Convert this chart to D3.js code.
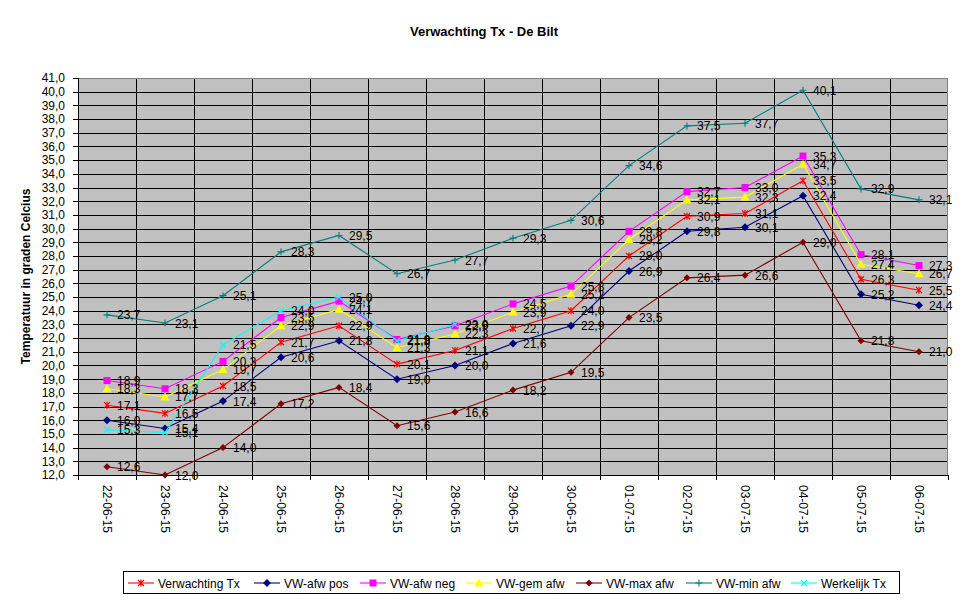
<!DOCTYPE html>
<html>
<head>
<meta charset="utf-8">
<script src="https://cdn.jsdelivr.net/npm/d3@7"></script>
<style>
  html, body { margin: 0; padding: 0; background: #fff; }
  svg { display: block; font-family: "Liberation Sans", Arial, sans-serif; }
</style>
</head>
<body>
<svg id="chart" width="969" height="602"></svg>
<script>
// ---- data ----
const categories = ["22-06-15","23-06-15","24-06-15","25-06-15","26-06-15","27-06-15","28-06-15",
  "29-06-15","30-06-15","01-07-15","02-07-15","03-07-15","04-07-15","05-07-15","06-07-15"];

const verwachtingTx = [17.1,16.5,18.5,21.7,22.9,20.1,21.1,22.7,24.0,28.0,30.9,31.1,33.5,26.3,25.5];
const vwAfwPos      = [16.0,15.4,17.4,20.6,21.8,19.0,20.0,21.6,22.9,26.9,29.8,30.1,32.4,25.2,24.4];
const vwAfwNeg      = [18.9,18.3,20.3,23.5,24.7,21.9,22.9,24.5,25.8,29.8,32.7,33.0,35.3,28.1,27.3];
const vwGemAfw      = [18.3,17.7,19.7,22.9,24.1,21.3,22.3,23.9,25.2,29.2,32.1,32.3,34.7,27.4,26.7];
const vwMaxAfw      = [12.6,12.0,14.0,17.2,18.4,15.6,16.6,18.2,19.5,23.5,26.4,26.6,29.0,21.8,21.0];
const vwMinAfw      = [23.7,23.1,25.1,28.3,29.5,26.7,27.7,29.3,30.6,34.6,37.5,37.7,40.1,32.9,32.1];
const werkelijkTx   = [15.3,15.1,21.5,24.0,25.0,21.8,23.0,null,null,null,null,null,null,null,null];

const seriesNames = ["Verwachting Tx","VW-afw pos","VW-afw neg","VW-gem afw","VW-max afw","VW-min afw","Werkelijk Tx"];
const yTickValues = d3.range(12, 41.5, 1);
const titleText = "Verwachting Tx - De Bilt";
const yAxisTitle = "Temperatuur in graden Celcius";

// ---- styling ----
const seriesDefs = [
  { name: seriesNames[0], values: verwachtingTx, color: "#FF0000", marker: "star" },
  { name: seriesNames[1], values: vwAfwPos,      color: "#000080", marker: "diamond" },
  { name: seriesNames[2], values: vwAfwNeg,      color: "#FF00FF", marker: "square" },
  { name: seriesNames[3], values: vwGemAfw,      color: "#FFFF00", marker: "triangle" },
  { name: seriesNames[4], values: vwMaxAfw,      color: "#800000", marker: "diamondSmall" },
  { name: seriesNames[5], values: vwMinAfw,      color: "#008080", marker: "plus" },
  { name: seriesNames[6], values: werkelijkTx,   color: "#00FFFF", marker: "cross" }
];

const svg = d3.select("#chart");
const plot = { left: 78, right: 948, top: 78, bottom: 475 };

const x = d3.scaleBand().domain(categories).range([plot.left, plot.right]).padding(0);
const y = d3.scaleLinear().domain([12, 41]).range([plot.bottom, plot.top]);
const fmt = v => d3.format(".1f")(v).replace(".", ",");

// title
svg.append("text").attr("x", 484).attr("y", 36).attr("text-anchor", "middle")
  .attr("font-size", 13).attr("font-weight", "bold").text(titleText);

// y axis title
svg.append("text").attr("transform", `translate(30,${(plot.top + plot.bottom) / 2}) rotate(-90)`)
  .attr("text-anchor", "middle").attr("font-size", 12).attr("font-weight", "bold").text(yAxisTitle);

// plot background
svg.append("rect").attr("x", plot.left).attr("y", plot.top)
  .attr("width", plot.right - plot.left).attr("height", plot.bottom - plot.top)
  .attr("fill", "#C0C0C0");

// horizontal grid
const grid = svg.append("g").attr("shape-rendering", "crispEdges");
grid.selectAll("line.h").data(yTickValues.filter(v => v > 12 && v < 41)).join("line")
  .attr("x1", plot.left).attr("x2", plot.right)
  .attr("y1", d => Math.round(y(d)) + 0.5).attr("y2", d => Math.round(y(d)) + 0.5)
  .attr("stroke", "#000").attr("stroke-width", 1);
// vertical grid at category boundaries
grid.selectAll("line.v").data(categories.slice(1)).join("line")
  .attr("x1", d => Math.round(x(d)) + 0.5).attr("x2", d => Math.round(x(d)) + 0.5)
  .attr("y1", plot.top).attr("y2", plot.bottom)
  .attr("stroke", "#000").attr("stroke-width", 1);

// plot border (top/right gray)
svg.append("rect").attr("x", plot.left + 0.5).attr("y", plot.top + 0.5)
  .attr("width", plot.right - plot.left - 1).attr("height", plot.bottom - plot.top)
  .attr("fill", "none").attr("stroke", "#808080").attr("shape-rendering", "crispEdges");

// y axis
const yAxis = svg.append("g").attr("transform", `translate(${plot.left},0)`)
  .call(d3.axisLeft(y).tickValues(yTickValues).tickFormat(fmt).tickSize(5).tickPadding(8))
  .attr("shape-rendering", "crispEdges");
yAxis.selectAll("text").attr("font-size", 12).attr("font-family", "Liberation Sans, Arial, sans-serif").attr("fill", "#000");
yAxis.selectAll("line,path").attr("stroke", "#000");
yAxis.select(".domain").attr("d", `M0.5,${plot.top}V${plot.bottom + 0.5}`);

// x axis line + ticks at boundaries
const xg = svg.append("g").attr("shape-rendering", "crispEdges");
xg.append("line").attr("x1", plot.left).attr("x2", plot.right)
  .attr("y1", plot.bottom + 0.5).attr("y2", plot.bottom + 0.5).attr("stroke", "#000");
const boundaries = categories.map(c => x(c)).concat([plot.right]);
xg.selectAll("line.t").data(boundaries).join("line")
  .attr("x1", d => Math.round(d) + 0.5).attr("x2", d => Math.round(d) + 0.5)
  .attr("y1", plot.bottom).attr("y2", plot.bottom + 5).attr("stroke", "#000");
// x labels rotated 90deg clockwise
svg.append("g").selectAll("text").data(categories).join("text")
  .attr("transform", d => `translate(${x(d) + x.bandwidth() / 2 - 4},${plot.bottom + 10}) rotate(90)`)
  .attr("text-anchor", "start").attr("font-size", 12).attr("fill", "#000").text(d => d);

// marker drawing
function drawMarker(g, type, color, cx, cy) {
  switch (type) {
    case "star":
      g.append("path").attr("d", `M${cx-3},${cy-3}L${cx+3},${cy+3}M${cx-3},${cy+3}L${cx+3},${cy-3}M${cx},${cy-3.5}L${cx},${cy+3.5}`)
        .attr("stroke", color).attr("stroke-width", 1.2).attr("fill", "none");
      break;
    case "diamond":
      g.append("path").attr("d", `M${cx},${cy-4}L${cx+4},${cy}L${cx},${cy+4}L${cx-4},${cy}Z`).attr("fill", color);
      break;
    case "diamondSmall":
      g.append("path").attr("d", `M${cx},${cy-3.5}L${cx+3.5},${cy}L${cx},${cy+3.5}L${cx-3.5},${cy}Z`).attr("fill", color);
      break;
    case "square":
      g.append("rect").attr("x", cx - 3.5).attr("y", cy - 3.5).attr("width", 7).attr("height", 7).attr("fill", color);
      break;
    case "triangle":
      g.append("path").attr("d", `M${cx},${cy-4.5}L${cx+4.5},${cy+3.5}L${cx-4.5},${cy+3.5}Z`).attr("fill", color);
      break;
    case "plus":
      g.append("path").attr("d", `M${cx-3.5},${cy}L${cx+3.5},${cy}M${cx},${cy-3.5}L${cx},${cy+3.5}`)
        .attr("stroke", color).attr("stroke-width", 1.1).attr("fill", "none");
      break;
    case "cross":
      g.append("path").attr("d", `M${cx-3},${cy-3}L${cx+3},${cy+3}M${cx-3},${cy+3}L${cx+3},${cy-3}`)
        .attr("stroke", color).attr("stroke-width", 1.1).attr("fill", "none");
      break;
  }
}

const cx = c => x(c) + x.bandwidth() / 2;
const line = d3.line().defined(d => d.v != null).x(d => cx(d.c)).y(d => y(d.v));

const seriesG = svg.append("g");
seriesDefs.forEach(s => {
  const pts = categories.map((c, i) => ({ c, v: s.values[i] }));
  const g = seriesG.append("g");
  g.append("path").datum(pts).attr("d", line).attr("fill", "none")
    .attr("stroke", s.color).attr("stroke-width", 1.1);
  pts.filter(p => p.v != null).forEach(p => drawMarker(g, s.marker, s.color, cx(p.c), y(p.v)));
});

// data labels
const labelsG = svg.append("g");
seriesDefs.forEach(s => {
  categories.forEach((c, i) => {
    const v = s.values[i];
    if (v == null) return;
    labelsG.append("text").attr("x", cx(c) + 10).attr("y", y(v) + 4.5)
      .attr("font-size", 12).attr("fill", "#000").text(fmt(v));
  });
});

// legend
const legend = svg.append("g");
legend.append("rect").attr("x", 123.5).attr("y", 571.5).attr("width", 776).attr("height", 22)
  .attr("fill", "#fff").attr("stroke", "#000").attr("shape-rendering", "crispEdges");
const legendX = [128, 254, 360, 466, 576, 686, 791];
seriesDefs.forEach((s, i) => {
  const lx = legendX[i], ly = 583;
  const lg = legend.append("g");
  lg.append("line").attr("x1", lx).attr("x2", lx + 26).attr("y1", ly).attr("y2", ly)
    .attr("stroke", s.color).attr("stroke-width", 1.1);
  drawMarker(lg, s.marker, s.color, lx + 13, ly);
  lg.append("text").attr("x", lx + 30).attr("y", ly + 4.5).attr("font-size", 12).attr("fill", "#000").text(s.name);
});
</script>
</body>
</html>
